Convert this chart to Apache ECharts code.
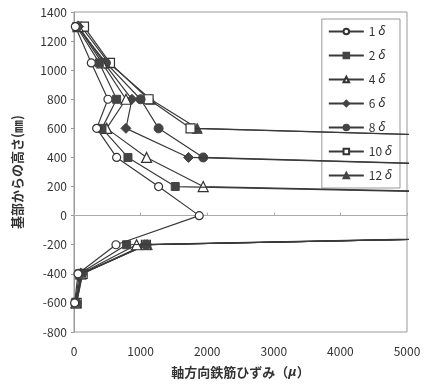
<!DOCTYPE html>
<html>
<head>
<meta charset="utf-8">
<script src="https://cdn.jsdelivr.net/npm/echarts@6/dist/echarts.min.js"></script>
<style>
html,body{margin:0;padding:0;background:#fff;}
#c{width:430px;height:388px;}
</style>
</head>
<body>
<div id="c"></div>
<script>
// heights from base (mm)
var heights = [1300, 1050, 800, 600, 400, 200, 0, -200, -400, -600];
// axial rebar strain (μ) per loading level; values beyond 5000 are off-scale readings
var s1  = [20,   260,  510, 340,  640,   1270,  1880,  630,  60,  10];
var s2  = [40,   380,  640, 420,  810,   1520,  23000, 790,  80,  20];
var s4  = [60,   420,  780, 490,  1090,  1940,  23000, 940,  100, 30];
var s6  = [70,   450,  870, 780,  1720,  17800, 23000, 1060, 110, 30];
var s8  = [50,   480,  1000, 1270, 1940, 17800, 23000, 1090, 120, 40];
var s10 = [150,  540,  1120, 1750, 17300, 20000, 23000, 1080, 130, 40];
var s12 = [110,  520,  1150, 1850, 17300, 20000, 23000, 1100, 110, 30];
var seriesNames = ['1δ', '2δ', '4δ', '6δ', '8δ', '10δ', '12δ'];
var xTicks = [0, 1000, 2000, 3000, 4000, 5000];
var yTicks = [-800, 1400, 200];

var allStrains = [s1, s2, s4, s6, s8, s10, s12];
var symbols = ['circle', 'rect', 'triangle', 'diamond', 'circle', 'rect', 'triangle'];
var sizes = [8, 8, 10, 10, 9, 9, 10];
var hollow = [true, false, true, false, false, true, false];

function pairs(arr) {
  return arr.map(function (v, i) { return [v, heights[i]]; });
}

var series = allStrains.map(function (arr, k) {
  return {
    name: seriesNames[k],
    type: 'line',
    data: pairs(arr),
    symbol: symbols[k],
    symbolSize: sizes[k],
    showAllSymbol: true,
    clip: true,
    z: 10 - k,
    lineStyle: { color: '#3a3a3a', width: 1.2 },
    itemStyle: hollow[k]
      ? { color: '#ffffff', borderColor: '#333', borderWidth: 1.2 }
      : { color: '#444', borderColor: '#444', borderWidth: 1 },
    emphasis: { disabled: true },
    animation: false
  };
});

var font = 'Noto Sans CJK JP';
var plain = function (v) { return String(v); };
var chart = echarts.init(document.getElementById('c'));
chart.setOption({
  animation: false,
  backgroundColor: '#fff',
  textStyle: { fontFamily: font },
  grid: { left: 74, right: 23, top: 12, bottom: 56, show: true, borderColor: '#999', borderWidth: 1, backgroundColor: 'transparent' },
  legend: {
    orient: 'vertical',
    right: 30,
    top: 19,
    itemWidth: 35,
    itemHeight: 7,
    itemGap: 11,
    padding: [6, 8, 6, 6],
    backgroundColor: '#fff',
    borderColor: '#999',
    borderWidth: 1,
    borderRadius: 0,
    data: seriesNames,
    formatter: function (n) { return '{n|' + n.replace('δ', '') + ' }{d|δ}'; },
    textStyle: {
      fontFamily: font, fontSize: 12, color: '#333',
      rich: {
        n: { fontFamily: font, fontSize: 12, color: '#333', lineHeight: 14, verticalAlign: 'middle' },
        d: { fontStyle: 'italic', fontFamily: 'Noto Sans', fontSize: 13, color: '#333', lineHeight: 14, verticalAlign: 'middle' }
      }
    }
  },
  xAxis: [{
    type: 'value',
    min: xTicks[0], max: xTicks[xTicks.length - 1], interval: 1000,
    position: 'bottom',
    axisLine: { show: false, onZero: false },
    axisTick: { show: false },
    splitLine: { show: false },
    axisLabel: { color: '#333', fontSize: 12, margin: 13, fontFamily: font, formatter: plain },
    name: '軸方向鉄筋ひずみ（{m|μ}）',
    nameLocation: 'middle',
    nameGap: 34,
    nameTextStyle: { color: '#333', fontSize: 13, fontFamily: font, fontWeight: 'bold',
      rich: { m: { fontStyle: 'italic', fontSize: 13, color: '#333', fontFamily: 'Noto Sans', fontWeight: 'bold' } } }
  }, {
    type: 'value',
    min: xTicks[0], max: xTicks[xTicks.length - 1], interval: 1000,
    position: 'bottom',
    axisLine: { show: true, onZero: true, lineStyle: { color: '#aaa', width: 1 } },
    axisTick: { show: true, inside: true, length: 3, lineStyle: { color: '#aaa' } },
    splitLine: { show: false },
    axisLabel: { show: false }
  }],
  yAxis: {
    type: 'value',
    min: yTicks[0], max: yTicks[1], interval: yTicks[2],
    axisLine: { show: true, onZero: false, lineStyle: { color: '#999' } },
    axisTick: { show: true, length: 3, lineStyle: { color: '#999' } },
    splitLine: { show: false },
    axisLabel: { color: '#333', fontSize: 12, margin: 7, fontFamily: font, formatter: plain },
    name: '基部からの高さ(㎜)',
    nameLocation: 'middle',
    nameGap: 50,
    nameRotate: 90,
    nameTextStyle: { color: '#333', fontSize: 13, fontFamily: font, fontWeight: 'bold' }
  },
  series: series
});
</script>
</body>
</html>
